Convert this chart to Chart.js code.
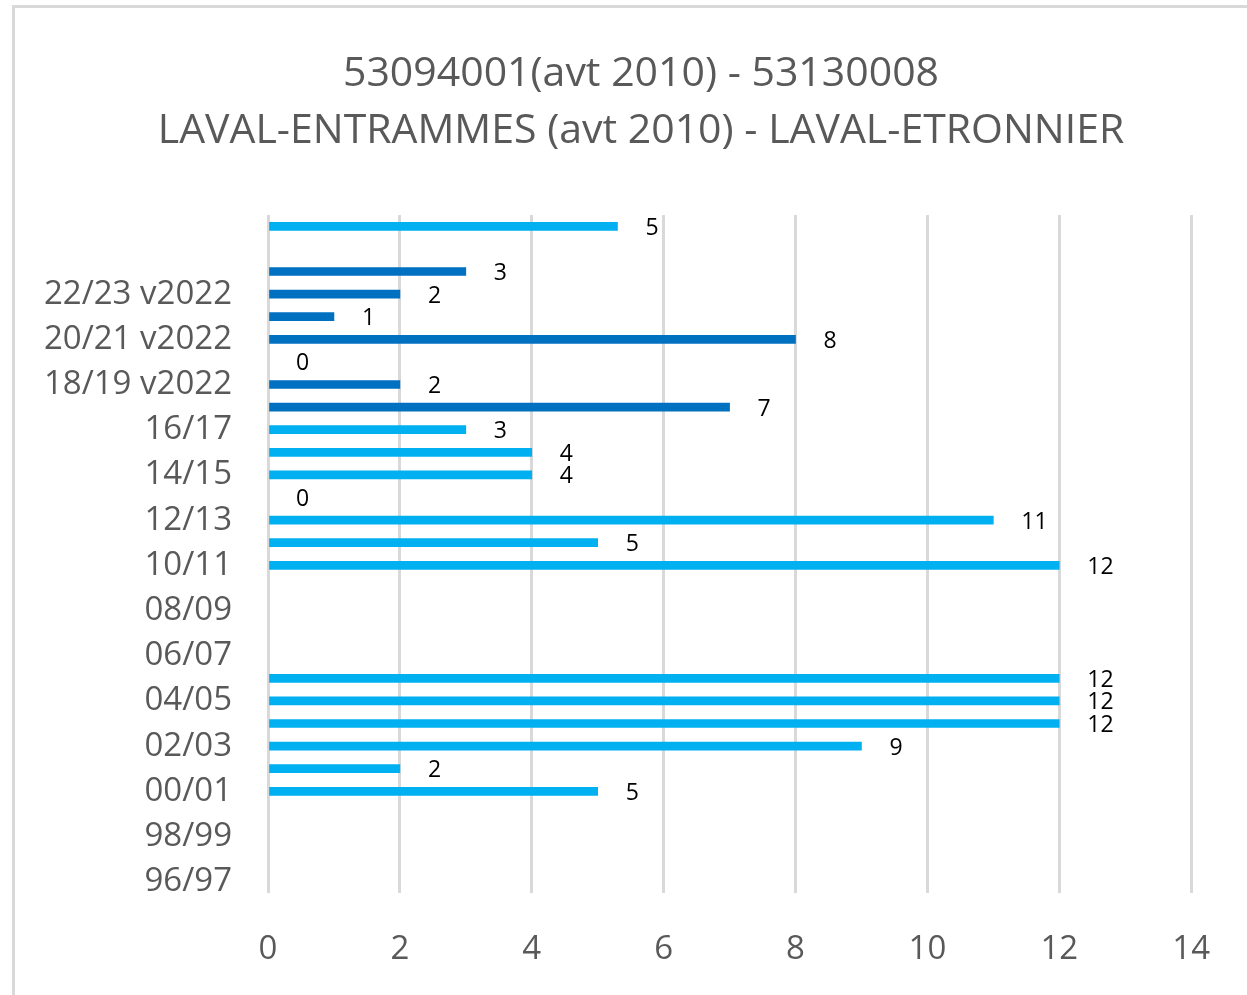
<!DOCTYPE html>
<html>
<head>
<meta charset="utf-8">
<script src="https://cdn.jsdelivr.net/npm/chart.js@4"></script>
<style>
  html, body { margin: 0; padding: 0; background: #fff; overflow: hidden; }
  #frame { position: absolute; left: 12px; top: 5px; width: 1260px; height: 1010px; border: 3px solid #d9d9d9; box-sizing: border-box; }
  #chart { position: absolute; left: 0; top: 0; }
</style>
</head>
<body>
<div id="frame"></div>
<canvas id="chart" width="1247" height="995"></canvas>
<script>
// seasons, bottom to top (as in the excel sheet)
const seasons = ['96/97', '97/98', '98/99', '99/00', '00/01', '01/02', '02/03', '03/04', '04/05', '05/06',
    '06/07', '07/08', '08/09', '09/10', '10/11', '11/12', '12/13', '13/14', '14/15', '15/16',
    '16/17', '17/18 v2022', '18/19 v2022', '19/20 v2022', '20/21 v2022', '21/22 v2022', '22/23 v2022', '23/24 v2022',
    '', 'Moyenne'];

// nb of days per season (null = no data)
const values = [null, null, null, null, 5, 2, 9, 12, 12, 12,
    null, null, null, null, 12, 5, 11, 0, 4, 4,
    3, 7, 2, 0, 8, 1, 2, 3,
    null, 5.3];

// seasons computed with the 2022 version
const v2022 = [21, 22, 23, 24, 25, 26, 27];

const titleLines = ['53094001(avt 2010) - 53130008', 'LAVAL-ENTRAMMES (avt 2010) - LAVAL-ETRONNIER'];

const LIGHT = '#00B0F0';
const DARK = '#0070C0';
const barColors = values.map((v, i) => {
    if (v === 0) return 'rgba(0,0,0,0)'; // no sliver for zero
    return v2022.includes(i) ? DARK : LIGHT;
});

const FONT = '"Open Sans", "Noto Sans", sans-serif';

// title drawn by hand : excel centres it on the whole frame, not on chart.js' box
const chartTitle = {
    id: 'chartTitle',
    afterDraw(chart) {
        const ctx = chart.ctx;
        ctx.save();
        ctx.font = '41px ' + FONT;
        ctx.fillStyle = '#595959';
        ctx.textAlign = 'center';
        ctx.textBaseline = 'middle';
        titleLines.forEach((line, i) => {
            ctx.fillText(line, 641, 74.5 + i * 57);
        });
        ctx.restore();
    }
};

// small plugin for the value labels next to each bar
const barLabels = {
    id: 'barLabels',
    afterDatasetsDraw(chart) {
        const ctx = chart.ctx;
        const meta = chart.getDatasetMeta(0);
        ctx.save();
        ctx.font = '23px ' + FONT;
        ctx.fillStyle = '#000';
        ctx.textAlign = 'left';
        ctx.textBaseline = 'middle';
        meta.data.forEach((bar, i) => {
            const v = values[i];
            if (v == null) return;
            ctx.fillText(Math.round(v).toString(), bar.x + 28, bar.y + 2);
        });
        ctx.restore();
    }
};

new Chart(document.getElementById('chart'), {
    type: 'bar',
    data: {
        labels: seasons,
        datasets: [{
            data: values,
            backgroundColor: barColors,
            barThickness: 8,
            borderWidth: 0
        }]
    },
    options: {
        indexAxis: 'y',
        responsive: false,
        animation: false,
        layout: {
            padding: { left: 0, right: 43, top: 215, bottom: 0 }
        },
        scales: {
            x: {
                min: 0,
                max: 14,
                ticks: {
                    stepSize: 2,
                    color: '#595959',
                    font: { family: FONT, size: 33 },
                    padding: 37
                },
                grid: { color: '#d9d9d9', lineWidth: 3, drawTicks: false },
                border: { display: false },
                afterFit: (scale) => { scale.height = 102; }
            },
            y: {
                reverse: true,
                ticks: {
                    autoSkip: false,
                    color: '#595959',
                    font: { family: FONT, size: 33 },
                    padding: 36,
                    callback: function (val, i) {
                        return i % 2 === 0 ? seasons[i] : '';
                    }
                },
                grid: { display: false, drawTicks: false },
                border: { display: false },
                afterFit: (scale) => { scale.width = 268; }
            }
        },
        plugins: {
            legend: { display: false },
            tooltip: { enabled: false },
            title: { display: false }
        }
    },
    plugins: [barLabels, chartTitle]
});
</script>
</body>
</html>
